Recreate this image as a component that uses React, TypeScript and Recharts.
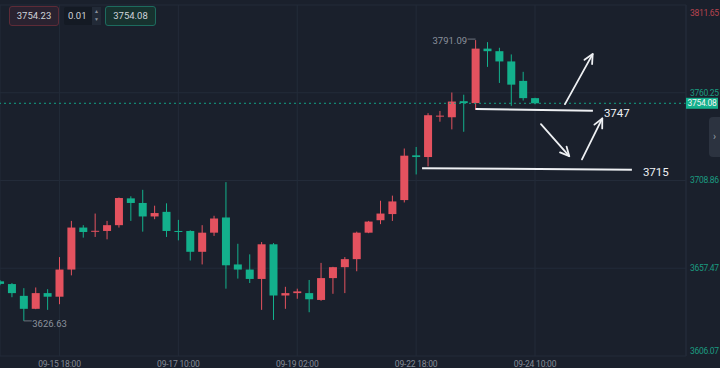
import {
  Bar,
  CartesianGrid,
  ComposedChart,
  ReferenceDot,
  ReferenceLine,
  XAxis,
  YAxis,
} from "recharts";

// 4H candles, oldest first
const opens = [
  3649.8, 3648.2, 3641.3, 3633.7, 3642.9, 3640.8, 3656.7, 3681.3, 3679.0, 3679.3,
  3682.7, 3698.4, 3695.7, 3687.8, 3690.5, 3679.3, 3679.3, 3667.1, 3678.3, 3687.2,
  3659.7, 3656.7, 3651.2, 3671.5, 3641.5, 3642.9, 3642.9, 3638.9, 3651.7, 3658.1,
  3662.8, 3678.3, 3685.6, 3689.2, 3697.4, 3723.6, 3722.6, 3746.25, 3745.9, 3755.3,
  3754.2, 3786.1, 3784.6, 3778.6, 3767.2, 3757.1,
];
const highs = [
  3650.5, 3648.8, 3645.8, 3646.2, 3645.2, 3664.0, 3685.2, 3682.7, 3689.5, 3685.2,
  3698.9, 3699.6, 3703.4, 3694.1, 3695.5, 3685.8, 3679.7, 3682.7, 3688.2, 3707.9,
  3671.8, 3665.6, 3672.8, 3672.2, 3646.6, 3645.5, 3650.6, 3660.6, 3658.3, 3664.0,
  3678.9, 3685.2, 3697.0, 3700.0, 3727.6, 3728.5, 3748.3, 3749.6, 3760.4, 3759.1,
  3791.09, 3789.9, 3786.6, 3782.7, 3772.5, 3757.3,
];
const lows = [
  3647.5, 3640.5, 3626.63, 3633.5, 3633.1, 3636.4, 3653.3, 3675.4, 3675.8, 3674.4,
  3681.3, 3685.2, 3678.9, 3686.2, 3675.8, 3673.8, 3662.0, 3659.7, 3676.4, 3645.5,
  3651.4, 3648.8, 3633.1, 3627.2, 3633.7, 3639.6, 3631.7, 3638.4, 3642.5, 3642.9,
  3655.7, 3678.0, 3683.3, 3685.2, 3696.0, 3712.4, 3717.1, 3743.3, 3738.8, 3737.4,
  3750.2, 3775.4, 3766.0, 3752.6, 3755.7, 3753.5,
];
const closes = [
  3648.3, 3642.9, 3633.7, 3642.9, 3640.8, 3656.7, 3681.3, 3678.7, 3679.4, 3682.7,
  3698.6, 3695.7, 3687.8, 3689.8, 3679.3, 3678.8, 3667.1, 3678.3, 3686.6, 3659.2,
  3656.7, 3651.2, 3671.5, 3641.5, 3642.9, 3643.9, 3639.3, 3651.7, 3658.1, 3662.8,
  3678.3, 3684.8, 3689.5, 3696.6, 3723.4, 3722.6, 3747.1, 3746.85, 3755.1, 3754.2,
  3786.1, 3784.6, 3778.6, 3765.0, 3757.1, 3754.08,
];

const timeTicks = [5, 15, 25, 35, 45];
const timeLabels = ["09-15 18:00", "09-17 10:00", "09-19 02:00", "09-22 18:00", "09-24 10:00"];
const priceTicks = [3606.07, 3657.47, 3708.86, 3760.25, 3811.65];
const lastPrice = 3754.08;
const askPrice = "3754.23";
const lotSize = "0.01";

// hand-drawn levels: [startIndex, startPrice, endIndex, endPrice]
const levelNames = ["3747", "3715"];
const levelSegments = [
  [40, 3750.7, 49.87, 3749.7],
  [35.5, 3716.1, 53.15, 3715.2],
];
const arrowSegments = [
  [47.52, 3753.6, 49.85, 3782.9],
  [45.5, 3741.9, 47.88, 3723.1],
  [48.95, 3721.2, 50.66, 3745.2],
];

const candles = opens.map((open, i) => ({
  i,
  open,
  high: highs[i],
  low: lows[i],
  close: closes[i],
}));

const BG = "#1a202c";
const GRID = "#232b39";
const UP = "#e4525f";
const DOWN = "#13b08c";
const INK = "#eef0f3";
const X_END = 57.7;

function Candle(props: any) {
  const { x, y, width, height, payload } = props;
  const { open, close, high, low } = payload;
  const color = close >= open ? UP : DOWN;
  const ppu = height / (high - low);
  const top = y + (high - Math.max(open, close)) * ppu;
  const bodyH = Math.max(1, Math.abs(open - close) * ppu);
  const cx = x + width / 2;
  return (
    <g>
      <line x1={cx} x2={cx} y1={y} y2={y + height} stroke={color} strokeWidth={1} />
      <rect x={x} y={top} width={width} height={bodyH} fill={color} />
    </g>
  );
}

function PriceTick({ x, y, payload }: any) {
  const v = payload.value;
  const isTop = v === priceTicks[priceTicks.length - 1];
  const isBottom = v === priceTicks[0];
  return (
    <text
      x={x + 2}
      y={y + (isTop ? 4 : isBottom ? -5 : 0)}
      dy="0.35em"
      fill={isTop ? "#b8444f" : "#1a9b80"}
      fontSize={8.5}
      letterSpacing={-0.3}
      textAnchor="start"
    >
      {v.toFixed(2)}
    </text>
  );
}

function TimeTick({ x, y, payload }: any) {
  const idx = timeTicks.indexOf(payload.value);
  return (
    <text x={x} y={y + 6} dy="0.35em" fill="#858b96" fontSize={8.5} letterSpacing={-0.2} textAnchor="middle">
      {timeLabels[idx]}
    </text>
  );
}

function Arrow(props: any) {
  const { x1, y1, x2, y2 } = props;
  const a = Math.atan2(y2 - y1, x2 - x1);
  const len = 10;
  const p1 = `${x2 - len * Math.cos(a - 0.45)},${y2 - len * Math.sin(a - 0.45)}`;
  const p2 = `${x2 - len * Math.cos(a + 0.45)},${y2 - len * Math.sin(a + 0.45)}`;
  return (
    <g stroke={INK} strokeWidth={1.8} fill="none" strokeLinecap="round" strokeLinejoin="round">
      <line x1={x1} y1={y1} x2={x2} y2={y2} />
      <polyline points={`${p1} ${x2},${y2} ${p2}`} />
    </g>
  );
}

const boxText = { fontSize: 9.5, color: "#cfd3da", lineHeight: "18px", textAlign: "center" as const };

export default function App() {
  return (
    <div
      style={{
        position: "fixed",
        left: 0,
        top: 0,
        width: 720,
        height: 368,
        background: BG,
        overflow: "hidden",
        fontFamily: "Roboto, 'Noto Sans', sans-serif",
      }}
    >
      <ComposedChart
        width={720}
        height={368}
        data={candles}
        margin={{ top: 5, right: 0, bottom: 0, left: 0 }}
      >
        <CartesianGrid stroke={GRID} />
        <XAxis
          type="number"
          dataKey="i"
          domain={[0, X_END]}
          allowDataOverflow
          ticks={timeTicks}
          tick={<TimeTick />}
          tickLine={false}
          tickSize={0}
          axisLine={false}
          height={12}
        />
        <YAxis
          orientation="right"
          type="number"
          domain={[priceTicks[0], priceTicks[priceTicks.length - 1]]}
          allowDataOverflow
          ticks={priceTicks}
          tick={<PriceTick />}
          tickLine={false}
          tickSize={0}
          axisLine={{ stroke: GRID }}
          width={34}
        />
        <ReferenceLine y={lastPrice} stroke="#12a385" strokeDasharray="2 3" />
        <Bar
          dataKey={(d: any) => [d.low, d.high]}
          barSize={8}
          shape={<Candle />}
          isAnimationActive={false}
        />
        <ReferenceDot
          x={2}
          y={lows[2]}
          r={0}
          shape={(p: any) => (
            <g>
              <line x1={p.cx} x2={p.cx + 8} y1={p.cy} y2={p.cy} stroke="#6d737e" />
              <text x={p.cx + 8.5} y={p.cy + 2.5} dy="0.35em" fill="#8b919c" fontSize={9.5}>
                {lows[2].toFixed(2)}
              </text>
            </g>
          )}
        />
        <ReferenceDot
          x={40}
          y={highs[40]}
          r={0}
          shape={(p: any) => (
            <g>
              <line x1={p.cx} x2={p.cx - 8} y1={p.cy - 1} y2={p.cy - 1} stroke="#6d737e" />
              <text x={p.cx - 8.5} y={p.cy + 1} dy="0.35em" fill="#8b919c" fontSize={9.5} textAnchor="end">
                {highs[40].toFixed(2)}
              </text>
            </g>
          )}
        />
        {levelSegments.map((s, k) => (
          <ReferenceLine
            key={levelNames[k]}
            segment={[
              { x: s[0], y: s[1] },
              { x: s[2], y: s[3] },
            ]}
            stroke={INK}
            strokeWidth={2}
          />
        ))}
        {levelSegments.map((s, k) => (
          <ReferenceDot
            key={`t${levelNames[k]}`}
            x={s[2]}
            y={s[3]}
            r={0}
            shape={(p: any) => (
              <text x={p.cx + 11} y={p.cy + 2} dy="0.35em" fill={INK} fontSize={11.5}>
                {levelNames[k]}
              </text>
            )}
          />
        ))}
        {arrowSegments.map((s, k) => (
          <ReferenceLine
            key={`a${k}`}
            segment={[
              { x: s[0], y: s[1] },
              { x: s[2], y: s[3] },
            ]}
            shape={<Arrow />}
          />
        ))}
        <ReferenceDot
          x={X_END}
          y={lastPrice}
          r={0}
          shape={(p: any) => (
            <g>
              <rect x={p.cx} y={p.cy - 5.5} width={32} height={11} fill={DOWN} />
              <text
                x={p.cx + 16}
                y={p.cy}
                dy="0.35em"
                fill="#f2f5f4"
                fontSize={8.5}
                letterSpacing={-0.3}
                textAnchor="middle"
              >
                {lastPrice.toFixed(2)}
              </text>
            </g>
          )}
        />
      </ComposedChart>

      {/* trade panel, top-left */}
      <div
        style={{
          ...boxText,
          position: "absolute",
          left: 9,
          top: 6,
          width: 48,
          height: 18,
          border: "1px solid #5e2b37",
          borderRadius: 3,
          background: "#2a2230",
        }}
      >
        {askPrice}
      </div>
      <div
        style={{
          ...boxText,
          position: "absolute",
          left: 64,
          top: 7,
          width: 37,
          height: 18,
          borderRadius: 2,
          background: "#141a24",
          textAlign: "left",
        }}
      >
        <span style={{ paddingLeft: 4 }}>{lotSize}</span>
        <div
          style={{
            position: "absolute",
            right: 0,
            top: 0,
            width: 9,
            height: 18,
            background: "#222a37",
            color: "#8a909a",
            fontSize: 5,
            lineHeight: "8px",
            textAlign: "center",
          }}
        >
          ▲<br />▼
        </div>
      </div>
      <div
        style={{
          ...boxText,
          position: "absolute",
          left: 105,
          top: 6,
          width: 49,
          height: 18,
          border: "1px solid #1d6b5e",
          borderRadius: 3,
          background: "#17322f",
        }}
      >
        {lastPrice.toFixed(2)}
      </div>

      {/* side tab */}
      <div
        style={{
          position: "absolute",
          left: 709,
          top: 117,
          width: 11,
          height: 40,
          background: "#2c3340",
          borderRadius: "4px 0 0 4px",
          color: "#9aa1ac",
          fontSize: 10,
          lineHeight: "40px",
          textAlign: "center",
        }}
      >
        ›
      </div>
    </div>
  );
}
